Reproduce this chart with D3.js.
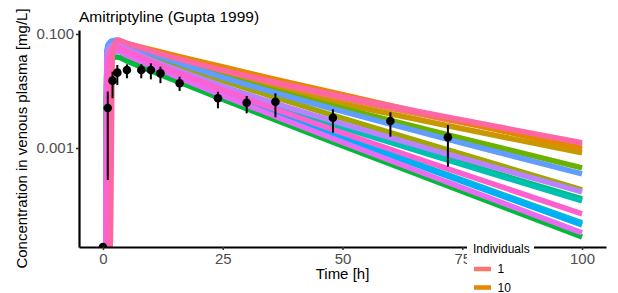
<!DOCTYPE html>
<html><head><meta charset="utf-8">
<script src="https://cdn.jsdelivr.net/npm/d3@7"></script>
<style>
body{margin:0;background:#fff;}
svg text{font-family:"Liberation Sans",Arial,sans-serif;}
</style>
</head><body>
<svg id="chart" width="618" height="293"></svg>
<script>
// ---- data ----
const titleText = "Amitriptyline (Gupta 1999)";
const simTimes = [0, 0.6, 0.8, 1, 1.5, 2, 3, 5, 8, 12, 16, 24, 36, 48, 72, 100];
// individual levels in factor order, with their default hue colours
const individuals = ["1","10","11","12","13","14","15","2","3","4","5","6","7","8","9"];
const indColors = ["#F8766D","#E58700","#C99800","#A3A500","#6BB100","#00BA38","#00BF7D","#00C0AF","#00BCD8","#00B0F6","#619CFF","#B983FF","#E76BF3","#FD61D1","#FF67A4"];
const ind1  = [0,0,0.0350,0.0568,0.0668,0.0707,0.0724,0.0636,0.0526,0.0418,0.0336,0.0225,0.0131,0.00798,0.00313,0.00109];
const ind10 = [0,0,0.0364,0.0592,0.0695,0.0736,0.0754,0.0681,0.0589,0.0485,0.0401,0.0277,0.0160,0.00941,0.00327,0.000960];
const ind11 = [0,0,0.0336,0.0546,0.0641,0.0678,0.0695,0.0601,0.0489,0.0379,0.0299,0.0194,0.0109,0.00649,0.00245,0.000820];
const ind12 = [0,0,0.0323,0.0524,0.0616,0.0652,0.0668,0.0577,0.0466,0.0353,0.0270,0.0161,0.00769,0.00375,0.000922,0.000184];
const ind13 = [0,0,0.0336,0.0546,0.0641,0.0678,0.0695,0.0606,0.0495,0.0384,0.0301,0.0191,0.0100,0.00547,0.00170,0.000448];
const ind14 = [0,0,0.0191,0.0310,0.0364,0.0386,0.0395,0.0336,0.0265,0.0194,0.0142,0.00769,0.00311,0.00127,0.000216,0.0000275];
const ind15 = [0,0,0.0298,0.0484,0.0568,0.0601,0.0616,0.0518,0.0403,0.0294,0.0218,0.0124,0.00564,0.00268,0.000646,0.000128];
const ind2  = [0,0,0.0298,0.0484,0.0568,0.0601,0.0616,0.0518,0.0401,0.0292,0.0215,0.0121,0.00548,0.00258,0.000611,0.000118];
const ind3  = [0,0,0.0264,0.0429,0.0503,0.0533,0.0546,0.0460,0.0359,0.0260,0.0190,0.0103,0.00428,0.00182,0.000337,0.0000485];
const ind4  = [0,0,0.0264,0.0429,0.0503,0.0533,0.0546,0.0460,0.0357,0.0258,0.0188,0.0101,0.00416,0.00175,0.000319,0.0000448];
const ind5  = [0,0,0.0379,0.0616,0.0724,0.0766,0.0785,0.0670,0.0532,0.0400,0.0306,0.0185,0.00926,0.00485,0.00142,0.000351];
const ind6  = [0,0,0.0310,0.0503,0.0591,0.0626,0.0641,0.0537,0.0418,0.0304,0.0225,0.0130,0.00606,0.00298,0.000778,0.000170];
const ind7  = [0,0,0.0243,0.0395,0.0464,0.0491,0.0503,0.0423,0.0328,0.0235,0.0170,0.00900,0.00359,0.00146,0.000249,0.0000324];
const ind8  = [0,0,0,0.0264,0.0465,0.0535,0.0592,0.0497,0.0386,0.0278,0.0204,0.0112,0.00478,0.00210,0.000432,0.0000698];
const ind9  = [0,0,0,0,0,0.0484,0.0785,0.0687,0.0568,0.0449,0.0361,0.0242,0.0142,0.00866,0.00346,0.00123];

// observed data (mean with error range)
const obsTime = [0, 1, 2, 3, 5, 8, 10, 12, 16, 24, 30, 36, 48, 60, 72];
const obsMean = [0, 0.00503, 0.0152, 0.0210, 0.0234, 0.0234, 0.0234, 0.0204, 0.0137, 0.00745, 0.00623, 0.00649, 0.00340, 0.00298, 0.00154];
const obsLow  = [0, 0.000275, 0.00745, 0.0127, 0.0167, 0.0167, 0.0160, 0.0137, 0.0100, 0.00497, 0.00406, 0.00346, 0.00186, 0.00158, 0.000470];
const obsHigh = [0, 0.00980, 0.0218, 0.0286, 0.0294, 0.0294, 0.0306, 0.0267, 0.0178, 0.00972, 0.00818, 0.00911, 0.00478, 0.00423, 0.00253];

const xTicks = [0, 25, 50, 75, 100];
const yTicks = [0.1, 0.001];
const yTickLabels = ["0.100", "0.001"];
const xDomain = [-5, 105];
const yDomain = [1.833e-5, 0.1175];

const seriesValues = {"1":ind1,"10":ind10,"11":ind11,"12":ind12,"13":ind13,"14":ind14,"15":ind15,
  "2":ind2,"3":ind3,"4":ind4,"5":ind5,"6":ind6,"7":ind7,"8":ind8,"9":ind9};

// ---- layout ----
const W = 618, H = 293;
const P = {left: 79, right: 606, top: 30, bottom: 247};
const svg = d3.select("#chart");

const x = d3.scaleLinear().domain(xDomain).range([P.left, P.right]);
const y = d3.scaleLog().domain(yDomain).range([P.bottom, P.top]);
const yPos = v => v > 0 ? y(v) : P.bottom;   // non-positive (−Inf on log) drawn at panel edge

svg.append("defs").append("clipPath").attr("id","panel")
  .append("rect").attr("x",P.left).attr("y",P.top)
  .attr("width",P.right-P.left).attr("height",P.bottom-P.top);

const plot = svg.append("g").attr("clip-path","url(#panel)");

const line = d3.line()
  .x(d => x(d.t)).y(d => yPos(d.v))
  .curve(d3.curveMonotoneX);

individuals.forEach((id,i) => {
  const vals = seriesValues[id];
  const pts = simTimes.map((t,j) => ({t, v: vals[j]}));
  plot.append("path").datum(pts)
    .attr("d", line)
    .attr("fill","none")
    .attr("stroke", indColors[i])
    .attr("stroke-width", 5.5)
    .attr("stroke-linejoin","round")
    .attr("stroke-linecap","butt");
});

const obs = obsTime.map((t,i) => ({t, m: obsMean[i], lo: obsLow[i], hi: obsHigh[i]}));
plot.selectAll("line.err").data(obs.filter(d => d.hi > 0)).enter().append("line")
  .attr("x1", d => x(d.t)).attr("x2", d => x(d.t))
  .attr("y1", d => yPos(d.lo)).attr("y2", d => yPos(d.hi))
  .attr("stroke","#000").attr("stroke-width",2);
plot.selectAll("circle.pt").data(obs).enter().append("circle")
  .attr("cx", d => x(d.t)).attr("cy", d => yPos(d.m))
  .attr("r", 4.3).attr("fill","#000");

// ---- axes ----
const xAxis = d3.axisBottom(x).tickValues(xTicks).tickSize(3).tickSizeOuter(0).tickPadding(3);
const gx = svg.append("g").attr("transform",`translate(0,${P.bottom})`).call(xAxis);
gx.select(".domain").attr("stroke","#000").attr("stroke-width",2.2);
gx.selectAll(".tick line").attr("stroke","#333").attr("stroke-width",1.6);
gx.selectAll(".tick text").attr("fill","#4D4D4D").style("font-size","15px");

const yAxis = d3.axisLeft(y).tickValues(yTicks).tickFormat((d,i) => yTickLabels[i])
  .tickSize(3).tickSizeOuter(0).tickPadding(2);
const gy = svg.append("g").attr("transform",`translate(${P.left},0)`).call(yAxis);
gy.select(".domain").attr("stroke","#000").attr("stroke-width",2.2);
gy.selectAll(".tick line").attr("stroke","#333").attr("stroke-width",1.6);
gy.selectAll(".tick text").attr("fill","#4D4D4D").style("font-size","15px");

// titles
svg.append("text").attr("x",P.left).attr("y",21.5)
  .style("font-size","15.5px").attr("fill","#000").text(titleText);
svg.append("text").attr("x",(P.left+P.right)/2).attr("y",279)
  .attr("text-anchor","middle").style("font-size","15px").attr("fill","#000").text("Time [h]");
svg.append("text")
  .attr("transform",`translate(26.5,${(P.top+P.bottom)/2}) rotate(-90)`)
  .attr("text-anchor","middle").style("font-size","15px").attr("fill","#000")
  .text("Concentration in venous plasma [mg/L]");

// ---- legend ----
const lg = svg.append("g");
lg.append("rect").attr("x",467).attr("y",241).attr("width",67).attr("height",H-241).attr("fill","#fff");
lg.append("text").attr("x",473).attr("y",253).style("font-size","12px").attr("fill","#000").text("Individuals");
individuals.forEach((id,i) => {
  const cy = 269 + i*18.5;
  if (cy + 4 > H) return;
  lg.append("line").attr("x1",474).attr("x2",491).attr("y1",cy).attr("y2",cy)
    .attr("stroke",indColors[i]).attr("stroke-width",4.5);
  lg.append("text").attr("x",497.5).attr("y",cy+4).style("font-size","12px").attr("fill","#000").text(id);
});
</script>
</body></html>
